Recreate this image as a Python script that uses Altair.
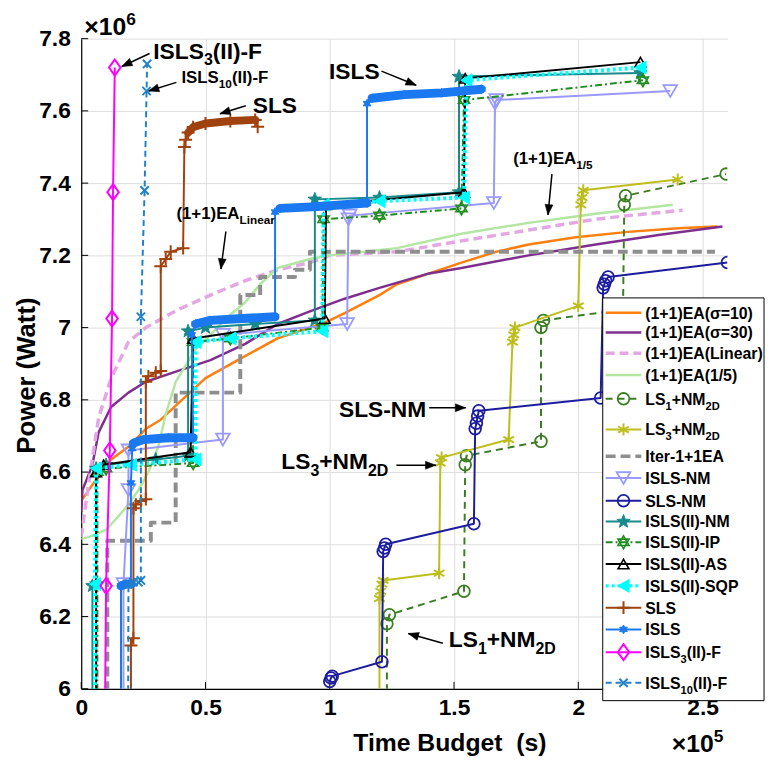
import math
import altair as alt
import pandas as pd

# ---------------- series values (x: time budget in 1e5 s, y: power in 1e6 W) ----------------
sig10_x = [0.005, 0.04, 0.12, 0.19, 0.26, 0.32, 0.39, 0.5, 0.63, 0.79, 0.92, 1.0, 1.06, 1.2, 1.27, 1.4, 1.53, 1.67, 1.8, 1.99, 2.2, 2.4, 2.56]
sig10_y = [6.525, 6.56, 6.635, 6.67, 6.72, 6.745, 6.79, 6.86, 6.91, 6.97, 7.0, 7.02, 7.04, 7.09, 7.12, 7.15, 7.18, 7.21, 7.23, 7.25, 7.265, 7.275, 7.28]

sig30_x = [0.0, 0.005, 0.045, 0.07, 0.12, 0.19, 0.26, 0.39, 0.52, 0.66, 0.79, 0.92, 1.06, 1.2, 1.4, 1.53, 1.8, 2.07, 2.33, 2.58]
sig30_y = [6.49, 6.55, 6.62, 6.71, 6.78, 6.82, 6.85, 6.88, 6.91, 6.955, 7.01, 7.045, 7.08, 7.11, 7.15, 7.165, 7.2, 7.23, 7.257, 7.28]

lin_x = [0.0, 0.03, 0.07, 0.12, 0.19, 0.26, 0.39, 0.52, 0.66, 0.79, 0.92, 1.0, 1.27, 1.53, 1.8, 2.07, 2.2, 2.42]
lin_y = [6.42, 6.57, 6.75, 6.86, 6.96, 7.0, 7.05, 7.09, 7.13, 7.16, 7.18, 7.2, 7.21, 7.24, 7.27, 7.3, 7.31, 7.325]

one5_x = [0.0, 0.03, 0.1, 0.14, 0.19, 0.23, 0.27, 0.31, 0.34, 0.38, 0.46, 0.52, 0.59, 0.66, 0.72, 0.79, 0.92, 1.0, 1.27, 1.53, 1.8, 2.07, 2.38]
one5_y = [6.415, 6.42, 6.44, 6.47, 6.51, 6.55, 6.6, 6.67, 6.76, 6.85, 6.94, 6.98, 7.03, 7.07, 7.12, 7.165, 7.19, 7.2, 7.22, 7.26, 7.29, 7.315, 7.34]

ls1_x = [1.23, 1.23, 1.24, 1.54, 1.545, 1.55, 1.85, 1.85, 1.86, 2.18, 2.185, 2.19, 2.595]
ls1_y = [5.5, 6.18, 6.205, 6.27, 6.62, 6.645, 6.685, 7.0, 7.02, 7.05, 7.34, 7.365, 7.425]

ls3_x = [1.2, 1.2, 1.205, 1.21, 1.215, 1.44, 1.445, 1.45, 1.72, 1.735, 1.74, 1.745, 2.0, 2.01, 2.015, 2.02, 2.4]
ls3_y = [5.5, 6.25, 6.27, 6.29, 6.3, 6.32, 6.625, 6.64, 6.69, 6.96, 6.98, 7.0, 7.06, 7.34, 7.36, 7.38, 7.41]

iter_x = [0.105, 0.105, 0.28, 0.28, 0.38, 0.38, 0.64, 0.64, 0.72, 0.72, 0.86, 0.86, 0.92, 0.92, 2.55]
iter_y = [5.5, 6.41, 6.41, 6.46, 6.46, 6.82, 6.82, 7.09, 7.09, 7.14, 7.14, 7.16, 7.16, 7.21, 7.21]

islsnm_x = [0.17, 0.17, 0.19, 0.19, 0.57, 0.57, 1.07, 1.075, 1.08, 1.66, 1.665, 1.67, 2.37]
islsnm_y = [5.5, 6.29, 6.55, 6.66, 6.69, 6.98, 7.01, 7.3, 7.31, 7.345, 7.62, 7.63, 7.655]

slsnm_x = [1.0, 1.005, 1.01, 1.21, 1.215, 1.22, 1.225, 1.58, 1.585, 1.59, 1.595, 1.6, 2.09, 2.1, 2.105, 2.11, 2.12, 2.6]
slsnm_y = [6.02, 6.03, 6.035, 6.075, 6.38, 6.39, 6.40, 6.457, 6.72, 6.735, 6.755, 6.77, 6.805, 7.11, 7.12, 7.13, 7.14, 7.18]

nm2_x = [0.045, 0.045, 0.06, 0.06, 0.1, 0.3, 0.43, 0.43, 0.5, 0.7, 0.94, 0.94, 1.2, 1.52, 1.52, 2.25]
nm2_y = [5.5, 6.285, 6.29, 6.61, 6.62, 6.635, 6.645, 6.99, 7.0, 7.01, 7.02, 7.355, 7.36, 7.375, 7.695, 7.705]

ip_x = [0.065, 0.065, 0.1, 0.45, 0.45, 0.6, 0.97, 0.975, 1.2, 1.53, 1.54, 2.26]
ip_y = [5.5, 6.6, 6.61, 6.625, 6.96, 6.97, 7.0, 7.3, 7.31, 7.33, 7.63, 7.685]

as_x = [0.06, 0.06, 0.09, 0.44, 0.45, 0.98, 0.985, 1.54, 1.545, 2.25]
as_y = [5.5, 6.6, 6.62, 6.655, 6.97, 7.025, 7.34, 7.375, 7.69, 7.735]

sqp_x = [0.055, 0.055, 0.06, 0.2, 0.46, 0.46, 0.6, 0.97, 0.975, 1.2, 1.54, 1.55, 2.25]
sqp_y = [5.5, 6.29, 6.61, 6.62, 6.635, 6.96, 6.97, 6.99, 7.34, 7.35, 7.36, 7.685, 7.72]

sls_x = [0.2, 0.2, 0.21, 0.21, 0.22, 0.24, 0.26, 0.26, 0.27, 0.3, 0.32, 0.32, 0.34, 0.36, 0.41, 0.415, 0.42, 0.43, 0.45, 0.5, 0.6, 0.7, 0.71]
sls_y = [5.5, 6.12, 6.14, 6.5, 6.51, 6.52, 6.525, 6.85, 6.865, 6.875, 6.88, 7.17, 7.19, 7.21, 7.22, 7.5, 7.52, 7.54, 7.555, 7.565, 7.572, 7.575, 7.556]
sls_band = [0, 0, 0, 0, 0, 0, 0, 0, 0, 0, 0, 0, 0, 0, 0, 0, 0, 1, 1, 1, 1, 1, 0]

isls_x = [0.16, 0.16, 0.18, 0.2, 0.2, 0.205, 0.21, 0.25, 0.35, 0.45, 0.445, 0.46, 0.52, 0.65, 0.78, 0.78, 0.8, 0.95, 1.15, 1.15, 1.17, 1.3, 1.45, 1.61]
isls_y = [5.5, 6.285, 6.29, 6.29, 6.57, 6.665, 6.68, 6.69, 6.695, 6.695, 6.98, 7.01, 7.02, 7.025, 7.03, 7.32, 7.33, 7.335, 7.345, 7.62, 7.635, 7.645, 7.65, 7.66]
isls_band = [0, 1, 1, 1, 0, 0, 2, 2, 2, 2, 0, 3, 3, 3, 3, 0, 4, 4, 4, 0, 5, 5, 5, 5]

isls3_x = [0.09, 0.10, 0.115, 0.124, 0.128, 0.135]
isls3_y = [5.5, 6.285, 6.66, 7.025, 7.375, 7.72]

isls10_x = [0.187, 0.19, 0.21, 0.23, 0.24, 0.24, 0.255, 0.263, 0.265]
isls10_y = [5.5, 6.29, 6.295, 6.295, 6.30, 7.03, 7.38, 7.655, 7.73]

x_ticks = [0, 0.5, 1, 1.5, 2, 2.5]
y_ticks = [6, 6.2, 6.4, 6.6, 6.8, 7, 7.2, 7.4, 7.6, 7.8]

# annotations: anchor x, baseline y (data units), text parts, font size
ann_parts = [
    (0.29, 7.745, [("ISLS", "n"), ("3", "s"), ("(II)-F", "n")], 23),
    (0.403, 7.677, [("ISLS", "n"), ("10", "s"), ("(II)-F", "n")], 17),
    (0.69, 7.595, [("SLS", "n")], 23),
    (0.997, 7.688, [("ISLS", "n")], 23),
    (0.383, 7.301, [("(1+1)EA", "n"), ("Linear", "s")], 17),
    (1.738, 7.452, [("(1+1)EA", "n"), ("1/5", "s")], 17),
    (1.037, 6.753, [("SLS-NM", "n")], 23),
    (0.805, 6.608, [("LS", "n"), ("3", "s"), ("+NM", "n"), ("2D", "s")], 23),
    (1.479, 6.115, [("LS", "n"), ("1", "s"), ("+NM", "n"), ("2D", "s")], 23),
    (0.012, 7.81, [("\u00d710", "n"), ("6", "p")], 25),
    (2.376, 5.825, [("\u00d710", "n"), ("5", "p")], 25),
]
# arrows: tail x, tail y, head x, head y
arrow_tx = [0.275, 0.383, 0.662, 1.208, 0.582, 1.894, 1.40, 1.268, 1.455]
arrow_ty = [7.759, 7.679, 7.614, 7.71, 7.266, 7.425, 6.778, 6.619, 6.126]
arrow_hx = [0.163, 0.271, 0.558, 1.348, 0.562, 1.878, 1.547, 1.427, 1.316]
arrow_hy = [7.723, 7.655, 7.592, 7.671, 7.162, 7.312, 6.778, 6.619, 6.153]

# ---------------- layout / style ----------------
W, H = 653, 657
XMAX, YMIN, YMAX = 2.6, 6.0, 7.8
PAD = {"left": 74, "top": 27, "right": 39, "bottom": 69}
X0 = 8 + PAD["left"]
Y0 = 8 + PAD["top"]
FONT = "Liberation Sans"


def dxd(px):
    return px * XMAX / W


def dyd(px):
    return px * (YMAX - YMIN) / H


def page_x(px):
    return (px - X0) * XMAX / W


def page_y(py):
    return YMAX - (py - Y0) * (YMAX - YMIN) / H


AW = {'(': 333, ')': 333, '+': 584, '-': 333, '=': 584, '/': 278, ' ': 278, '\u00d7': 584, '\u03c3': 620,
      'A': 722, 'B': 722, 'D': 722, 'E': 667, 'F': 611, 'I': 278, 'L': 611, 'M': 833, 'N': 722, 'P': 667,
      'Q': 778, 'S': 667, 'T': 611, 'W': 944, 'a': 556, 'e': 556, 'i': 278, 'n': 611, 'r': 389, 't': 333, 'l': 278}


def tw(s, size):
    return sum(AW.get(c, 556) for c in s) / 1000.0 * size


def text_rows(x, y, parts, size):
    rows, off = [], 0.0
    for txt, kind in parts:
        fs = size if kind == "n" else round(size * 0.7, 1)
        dy = 0 if kind == "n" else (0.3 * size if kind == "s" else -0.42 * size)
        rows.append({"x": x + dxd(off), "y": y - dyd(dy), "t": txt, "fs": fs})
        off += tw(txt, fs)
    return rows


def star_path(n, r_in):
    pts = []
    for k in range(2 * n):
        a = -math.pi / 2 + k * math.pi / n
        r = 1.0 if k % 2 == 0 else r_in
        pts.append((r * math.cos(a), r * math.sin(a)))
    return "M" + "L".join(f"{px:.3f},{py:.3f}" for px, py in pts) + "Z"


ASTER = "M0,-1L0,1M-0.87,-0.5L0.87,0.5M-0.87,0.5L0.87,-0.5"
PLUS = "M-1,0L1,0M0,-1L0,1"
XCROSS = "M-0.8,-0.8L0.8,0.8M-0.8,0.8L0.8,-0.8"
STAR5 = star_path(5, 0.42)
STAR6 = star_path(6, 0.55)
HEXA = "M0,-1L0.866,0.5L-0.866,0.5ZM0,1L0.866,-0.5L-0.866,-0.5Z"
DIAM = "M0,-1L0.72,0L0,1L-0.72,0Z"
ARROWHEAD = "M0,0L-0.38,1L0.38,1Z"

XS = alt.Scale(domain=[0, XMAX], nice=False, zero=False)
YS = alt.Scale(domain=[YMIN, YMAX], nice=False, zero=False)
XAX = alt.Axis(values=x_ticks, format=".1~f", grid=True, gridColor="#dddddd", gridWidth=1,
               domainColor="black", domainWidth=1.2, ticks=False, labelFont=FONT, labelFontSize=23,
               labelFontWeight="bold", labelColor="black", labelPadding=8, labelFlush=False,
               labelOverlap=False, title="Time Budget\u00a0 (s)", titleFont=FONT, titleFontSize=25,
               titleFontWeight="bold", titleColor="black", titleX=372, titleY=62, titleAlign="center",
               titleBaseline="alphabetic")
YAX = alt.Axis(values=y_ticks, format=".1~f", grid=True, gridColor="#dddddd", gridWidth=1,
               domainColor="black", domainWidth=1.2, ticks=False, labelFont=FONT, labelFontSize=23,
               labelFontWeight="bold", labelColor="black", labelPadding=11, labelFlush=False,
               labelOverlap=False, title="Power (Watt)", titleFont=FONT, titleFontSize=26,
               titleFontWeight="bold", titleColor="black", titleX=-47, titleY=340, titleAngle=270,
               titleAlign="center", titleBaseline="alphabetic")


def EX(f="x"):
    return alt.X(f"{f}:Q", scale=XS, axis=XAX)


def EY(f="y"):
    return alt.Y(f"{f}:Q", scale=YS, axis=YAX)


# legend rows: page y of each row
series = [
    dict(k="sig10", x=sig10_x, y=sig10_y, c="#FF7F0E", w=2.5, lab=[("(1+1)EA(\u03c3=10)", "n")], ly=312),
    dict(k="sig30", x=sig30_x, y=sig30_y, c="#7E2F8E", w=2.5, lab=[("(1+1)EA(\u03c3=30)", "n")], ly=332),
    dict(k="lin", x=lin_x, y=lin_y, c="#E3A8E3", w=3.5, dash=[9, 5], lab=[("(1+1)EA(Linear)", "n")], ly=353),
    dict(k="one5", x=one5_x, y=one5_y, c="#B3E6A1", w=2.5, lab=[("(1+1)EA(1/5)", "n")], ly=375),
    dict(k="ls1", x=ls1_x, y=ls1_y, c="#3B7D23", w=2, dash=[7, 5], m="circle", ms=140, mf=False, msw=1.8,
         lab=[("LS", "n"), ("1", "s"), ("+NM", "n"), ("2D", "s")], ly=399),
    dict(k="ls3", x=ls3_x, y=ls3_y, c="#BDBD1C", w=2, m=ASTER, ms=150, mf=False, msw=2,
         lab=[("LS", "n"), ("3", "s"), ("+NM", "n"), ("2D", "s")], ly=430),
    dict(k="iter", x=iter_x, y=iter_y, c="#8E8E8E", w=4, dash=[10, 5], lab=[("Iter-1+1EA", "n")], ly=457),
    dict(k="islsnm", x=islsnm_x, y=islsnm_y, c="#9999FF", w=2, m="triangle-down", ms=190, mf=False, msw=1.8,
         lab=[("ISLS-NM", "n")], ly=479),
    dict(k="slsnm", x=slsnm_x, y=slsnm_y, c="#1C1C9E", w=2, m="circle", ms=140, mf=False, msw=1.8,
         lab=[("SLS-NM", "n")], ly=502),
    dict(k="nm2", x=nm2_x, y=nm2_y, c="#178A8A", w=2, m=STAR5, ms=200, mf=True, msw=1,
         lab=[("ISLS(II)-NM", "n")], ly=523),
    dict(k="ip", x=ip_x, y=ip_y, c="#1F8C1F", w=2, dash=[7, 3, 2, 3], m=HEXA, ms=170, mf=False, msw=1.6,
         lab=[("ISLS(II)-IP", "n")], ly=544),
    dict(k="as", x=as_x, y=as_y, c="#000000", w=2, m="triangle-up", ms=120, mf=False, msw=1.6,
         lab=[("ISLS(II)-AS", "n")], ly=566),
    dict(k="sqp", x=sqp_x, y=sqp_y, c="#00FFFF", w=4, dash=[3, 3], m="triangle-left", ms=170, mf=True, msw=1,
         lab=[("ISLS(II)-SQP", "n")], ly=588),
    dict(k="sls", x=sls_x, y=sls_y, c="#A0420F", w=2, m=PLUS, ms=170, mf=False, msw=2, band=sls_band, bw=8,
         lab=[("SLS", "n")], ly=610),
    dict(k="isls", x=isls_x, y=isls_y, c="#1A78F0", w=2, m=STAR6, ms=80, mf=True, msw=1, band=isls_band, bw=9,
         lab=[("ISLS", "n")], ly=632),
    dict(k="isls3", x=isls3_x, y=isls3_y, c="#FF00FF", w=2, m=DIAM, ms=260, mf=False, msw=2,
         lab=[("ISLS", "n"), ("3", "s"), ("(II)-F", "n")], ly=655),
    dict(k="isls10", x=isls10_x, y=isls10_y, c="#2080C8", w=2, dash=[6, 4], m=XCROSS, ms=110, mf=False, msw=2,
         lab=[("ISLS", "n"), ("10", "s"), ("(II)-F", "n")], ly=686),
]

layers = []

# inward tick marks
xt = pd.DataFrame({"x": x_ticks, "y": [YMIN] * len(x_ticks), "y2": [YMIN + dyd(7)] * len(x_ticks)})
yt = pd.DataFrame({"y": y_ticks, "x": [0.0] * len(y_ticks), "x2": [dxd(7)] * len(y_ticks)})
layers.append(alt.Chart(xt).mark_rule(color="black", strokeWidth=1).encode(x=EX(), y=EY(), y2="y2:Q"))
layers.append(alt.Chart(yt).mark_rule(color="black", strokeWidth=1).encode(x=EX(), x2="x2:Q", y=EY()))


def line_kw(s, width=None):
    kw = dict(color=s["c"], strokeWidth=width if width else s["w"])
    if s.get("dash"):
        kw["strokeDash"] = s["dash"]
    return kw


for s in series:
    df = pd.DataFrame({"x": s["x"], "y": s["y"], "i": list(range(len(s["x"])))})
    if "band" in s:
        df["band"] = s["band"]
    layers.append(alt.Chart(df).mark_line(clip=True, strokeJoin="round", **line_kw(s))
                  .encode(x=EX(), y=EY(), order="i:Q"))
    if "band" in s:
        layers.append(alt.Chart(df).transform_filter("datum.band > 0")
                      .mark_line(clip=True, color=s["c"], strokeWidth=s["bw"], strokeCap="round", strokeJoin="round")
                      .encode(x=EX(), y=EY(), detail="band:N", order="i:Q"))
    if s.get("m"):
        pk = dict(shape=s["m"], size=s["ms"], opacity=1, clip=True, strokeWidth=s["msw"])
        if s["mf"]:
            pk.update(filled=True, fill=s["c"], stroke=s["c"])
        else:
            pk.update(filled=False, stroke=s["c"])
        layers.append(alt.Chart(df).mark_point(**pk).encode(x=EX(), y=EY()))

# ---------------- legend ----------------
LX1, LY1, LX2, LY2 = 609, 297, 772, 704
box = pd.DataFrame({"x": [page_x(LX1)], "x2": [page_x(LX2)], "y": [page_y(LY1)], "y2": [page_y(LY2)]})
layers.append(alt.Chart(box).mark_rect(fill="white", stroke="black", strokeWidth=1)
              .encode(x=EX(), x2="x2:Q", y=EY(), y2="y2:Q"))
leg_text = []
for s in series:
    row = pd.DataFrame({"x": [page_x(612)], "x2": [page_x(648)], "y": [page_y(s["ly"])]})
    layers.append(alt.Chart(row).mark_rule(**line_kw(s, min(s["w"], 3.5))).encode(x=EX(), x2="x2:Q", y=EY()))
    if s.get("m"):
        pt = pd.DataFrame({"x": [page_x(630)], "y": [page_y(s["ly"])]})
        pk = dict(shape=s["m"], size=s["ms"], opacity=1, strokeWidth=s["msw"])
        if s["mf"]:
            pk.update(filled=True, fill=s["c"], stroke=s["c"])
        else:
            pk.update(filled=False, stroke=s["c"])
        layers.append(alt.Chart(pt).mark_point(**pk).encode(x=EX(), y=EY()))
    leg_text += text_rows(page_x(652), page_y(s["ly"] + 6), s["lab"], 16)
layers.append(alt.Chart(pd.DataFrame(leg_text)).mark_text(align="left", baseline="alphabetic", font=FONT,
                                                          fontWeight="bold", color="black")
              .encode(x=EX(), y=EY(), text="t:N", size=alt.Size("fs:Q", scale=None, legend=None)))

# ---------------- annotations ----------------
ann_rows = []
for ax_, ay_, parts, size in ann_parts:
    ann_rows += text_rows(ax_, ay_, parts, size)
layers.append(alt.Chart(pd.DataFrame(ann_rows)).mark_text(align="left", baseline="alphabetic", font=FONT,
                                                          fontWeight="bold", color="black")
              .encode(x=EX(), y=EY(), text="t:N", size=alt.Size("fs:Q", scale=None, legend=None)))

angs = []
for tx, ty, hx, hy in zip(arrow_tx, arrow_ty, arrow_hx, arrow_hy):
    ux = (hx - tx) * W / XMAX
    uy = -(hy - ty) * H / (YMAX - YMIN)
    angs.append(math.degrees(math.atan2(ux, -uy)) % 360)
arr = pd.DataFrame({"x": arrow_tx, "y": arrow_ty, "x2": arrow_hx, "y2": arrow_hy, "ang": angs})
layers.append(alt.Chart(arr).mark_rule(color="black", strokeWidth=1.5)
              .encode(x=EX(), y=EY(), x2="x2:Q", y2="y2:Q"))
layers.append(alt.Chart(arr).mark_point(shape=ARROWHEAD, size=440, filled=True, fill="black", stroke="black",
                                        strokeWidth=0.5, opacity=1)
              .encode(x=EX("x2"), y=EY("y2"), angle=alt.Angle("ang:Q", scale=None)))

chart = (alt.layer(*layers)
         .properties(width=W, height=H, padding=PAD, autosize=alt.AutoSizeParams(type="none"),
                     background="white")
         .configure_view(stroke=None))

chart.save("out.html", embed_options={"renderer": "svg", "actions": False})
